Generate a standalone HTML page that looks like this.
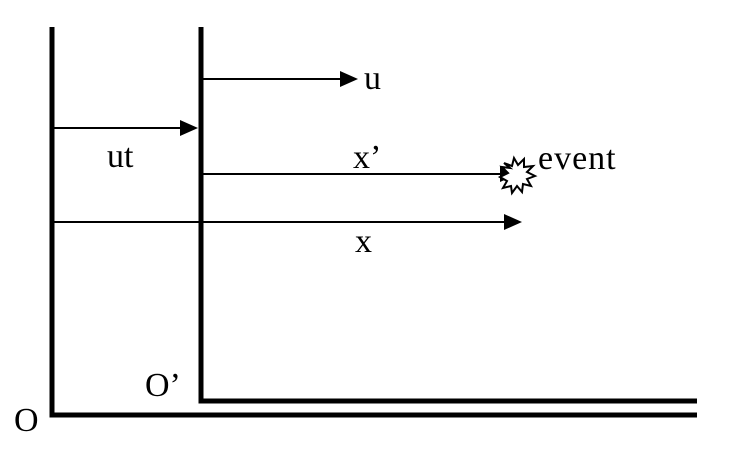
<!DOCTYPE html>
<html><head><style>body{margin:0;background:#fff}svg{display:block}</style></head><body>
<svg width="738" height="456" xmlns="http://www.w3.org/2000/svg" font-family="Liberation Serif, serif" font-size="34" fill="#000">
<g stroke="#000" stroke-width="5" fill="none">
<polyline points="52,27 52,415 697,415"/>
<polyline points="201,27 201,401 697,401"/>
</g>
<g stroke="#000" stroke-width="2">
<line x1="201" y1="79" x2="342" y2="79"/>
<line x1="52" y1="128" x2="182" y2="128"/>
<line x1="201" y1="174" x2="502" y2="174"/>
<line x1="52" y1="222" x2="506" y2="222"/>
</g>
<polygon points="340,71 358,79 340,87"/>
<polygon points="180,120 198,128 180,136"/>
<polygon points="500,166 518,174 500,182"/>
<polygon points="504,214 522,222 504,230"/>
<polygon stroke="#000" stroke-width="2" fill="#fff" points="504,163 512,166 514,158 518,165 524,159 524,167 533,166 527,172 535,176 527,179 531,186 523,184 522,192 517,186 512,193 511,186 503,188 507,181 500,177 508,173 502,167 510,168"/>
<text x="364" y="89">u</text>
<text x="107" y="167">ut</text>
<text x="353" y="168">x’</text>
<text x="538" y="169" letter-spacing="1">event</text>
<text x="355" y="252">x</text>
<text x="145" y="396">O’</text>
<text x="14" y="431">O</text>
</svg>
</body></html>
